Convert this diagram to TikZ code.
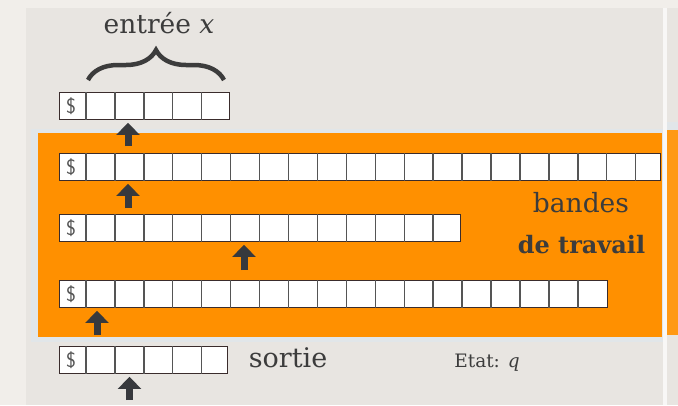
\documentclass[tikz,border=0pt]{standalone}
\usepackage{fontspec}
\setmainfont{DejaVu Serif}
\usetikzlibrary{arrows.meta,decorations.pathreplacing,calc}
\definecolor{bgout}{HTML}{F1EEEA}
\definecolor{panel}{HTML}{E8E5E1}
\definecolor{halo}{HTML}{E1E6E9}
\definecolor{orng}{HTML}{FF9000}
\definecolor{txt}{HTML}{3C3C3C}
\definecolor{tapeline}{HTML}{3A2C2C}
\definecolor{divline}{HTML}{555555}
\definecolor{headc}{HTML}{37393D}
\tikzset{
  tapebox/.style={draw=tapeline, line width=1.4pt, fill=white, inner sep=0pt, anchor=north west, minimum height=27pt},
  divider/.style={draw=divline, line width=1.4pt},
  headarrow/.style={draw=headc, line width=7pt, -{Triangle[width=23pt,length=12pt]}, shorten >=2.5pt},
  dollar/.style={text=divline, font=\sffamily\fontsize{21}{21}\selectfont, inner sep=0pt},
  lbl/.style={text=txt, anchor=base, inner sep=0pt}
}
\begin{document}
\begin{tikzpicture}[x=1pt,y=-1pt]
\useasboundingbox (0,0) rectangle (678,405);
% background
\fill[bgout] (0,0) rectangle (678,405);
\fill[panel] (26,8) rectangle (663,405);
\fill[white!70!panel] (663,8) rectangle (667,405);
\fill[panel] (667,8) rectangle (678,405);
\fill[halo] (667,122) rectangle (678,130);
\fill[orng!92!white] (667,130) rectangle (678,335);
\fill[halo] (31,129) rectangle (663,342);
\fill[orng] (38,133) rectangle (662,337);
% tapes
\node[tapebox, minimum width=170.5pt] (t1) at (58.5,92) {};
\node[tapebox, minimum width=601.5pt] (t2) at (58.5,153) {};
\node[tapebox, minimum width=401.5pt] (t3) at (58.5,214) {};
\node[tapebox, minimum width=548.5pt] (t4) at (58.5,280) {};
\node[tapebox, minimum width=168.5pt] (t5) at (58.5,346) {};
\foreach \t/\n in {t1/4,t2/19,t3/12,t4/17,t5/4}{
  \foreach \k in {0,...,\n}{
    \draw[divider] ($(\t.north west)+(27.5+\k*28.93,0)$) -- ($(\t.south west)+(27.5+\k*28.93,0)$);
  }
  \node[dollar] at ($(\t.west)+(12.5,0)$) {\$};
}
% heads
\coordinate (h1) at (128,146);
\coordinate (h2) at (128,208);
\coordinate (h3) at (244,270);
\coordinate (h4) at (97,335);
\coordinate (h5) at (129.5,400);
\draw[headarrow] (h1) -- (h1 |- t1.south);
\draw[headarrow] (h2) -- (h2 |- t2.south);
\draw[headarrow] (h3) -- (h3 |- t3.south);
\draw[headarrow] (h4) -- (h4 |- t4.south);
\draw[headarrow] (h5) -- (h5 |- t5.south);
% brace
\coordinate (b1) at (88,80);
\coordinate (b2) at (224,80);
\draw[txt, line width=4.5pt, decorate, decoration={brace, amplitude=30pt}] (b1) -- (b2);
% labels
\node[lbl, font=\fontsize{26.5}{28}\selectfont] (entree) at (159,33) {entrée \textit{x}};
\node[lbl, font=\fontsize{26.5}{28}\selectfont] (bandes) at (581,212) {bandes};
\node[lbl, font=\bfseries\fontsize{24}{26}\selectfont] (travail) at (581.5,253) {de travail};
\node[lbl, font=\fontsize{27}{29}\selectfont] (sortie) at (288,367) {sortie};
\node[lbl, font=\fontsize{18.5}{20}\selectfont] (etat) at (487,367) {Etat: \textit{q}};
\end{tikzpicture}
\end{document}
